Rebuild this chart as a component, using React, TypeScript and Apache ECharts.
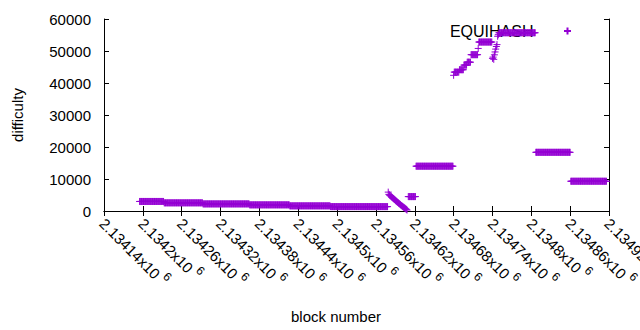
import { useEffect, useRef } from "react";
import * as echarts from "echarts";

// ---- axis ranges ----
const X_MIN = 2134140;
const X_MAX = 2134920;
const X_STEP = 60;
const Y_MIN = 0;
const Y_MAX = 60000;
const Y_STEP = 10000;

// tick labels (mantissa of N x10^6)
const xTickLabels = [
  "2.13414", "2.1342", "2.13426", "2.13432", "2.13438", "2.13444", "2.1345",
  "2.13456", "2.13462", "2.13468", "2.13474", "2.1348", "2.13486", "2.13492",
];
const xTickExponent = "6";

// ---- data: runs of consecutive blocks with the same difficulty ----
const runFirst = [
  2134195, 2134233, 2134293, 2134365, 2134427, 2134490, 2134610, 2134622,
  2134680, 2134681, 2134689, 2134696, 2134701, 2134707, 2134718, 2134719,
  2134750, 2134807, 2134861,
];
const runLast = [
  2134232, 2134292, 2134364, 2134426, 2134489, 2134578, 2134621, 2134679,
  2134680, 2134688, 2134695, 2134700, 2134706, 2134717, 2134718, 2134739,
  2134806, 2134860, 2134916,
];
const runValue = [
  2980, 2550, 2220, 1920, 1610, 1370, 4500, 14000,
  42400, 43400, 44150, 45600, 46500, 48850, 50800, 52800,
  55700, 18340, 9300,
];

// ---- data: sequences of individually varying blocks ----
const dropStart = 2134579;
const dropValues = [
  5900, 5200, 5000, 4800, 4650, 4450, 4250, 4100, 3900, 3700, 3550, 3350,
  3150, 3000, 2800, 2650, 2450, 2300, 2100, 1950, 1750, 1600, 1450, 1300,
  1150, 1000, 850, 700, 500, 300,
];
const riseStart = 2134740;
const riseValues = [47700, 48100, 47400, 48800, 49700, 50600, 51400, 52000, 54600, 55100];

const SERIES_NAME = "EQUIHASH";
const COLOR = "#9400d3";
const FONT = "Liberation Sans, Arial, sans-serif";
const PLUS = "path://M0,-1L0,1M-1,0L1,0";

function buildPoints(): [number, number][] {
  const pts: [number, number][] = [];
  for (let r = 0; r < runFirst.length; r++) {
    for (let b = runFirst[r]; b <= runLast[r]; b++) pts.push([b, runValue[r]]);
  }
  dropValues.forEach((v, i) => pts.push([dropStart + i, v]));
  riseValues.forEach((v, i) => pts.push([riseStart + i, v]));
  return pts;
}

export default function App() {
  const ref = useRef<HTMLDivElement>(null);
  useEffect(() => {
    if (!ref.current) return;
    const chart = echarts.init(ref.current, null, { renderer: "svg" });
    const axisLine = { show: true, lineStyle: { color: "#000", width: 1 } };
    const tick = { show: true, inside: true, length: 5, lineStyle: { color: "#000", width: 1 } };
    chart.setOption({
      animation: false,
      backgroundColor: "#fff",
      textStyle: { fontFamily: FONT },
      grid: {
        left: 104, right: 31, top: 19, bottom: 119,
        containLabel: false, outerBoundsMode: "none",
      },
      legend: {
        show: true,
        data: [SERIES_NAME],
        right: 68,
        top: 23,
        align: "right",
        itemWidth: 58,
        itemHeight: 7,
        padding: 0,
        z: 1,
        selectedMode: false,
        textStyle: { fontSize: 16, color: "#000", fontFamily: FONT },
      },
      xAxis: [
        {
          type: "value", min: X_MIN, max: X_MAX, interval: X_STEP, position: "bottom",
          axisLine, axisTick: tick, splitLine: { show: false },
          axisLabel: {
            show: true, rotate: -45, margin: 8, showMinLabel: true, showMaxLabel: true,
            hideOverlap: false,
            formatter: (v: number) => {
              const i = Math.round((v - X_MIN) / X_STEP);
              return `{m|${xTickLabels[i]}x10}{s|${xTickExponent}}`;
            },
            rich: {
              m: { fontSize: 15, color: "#000", fontFamily: FONT, lineHeight: 20, verticalAlign: "bottom" },
              s: { fontSize: 12, color: "#000", fontFamily: FONT, padding: [0, 0, 0, 4], verticalAlign: "top" },
            },
          },
        },
        {
          type: "value", min: X_MIN, max: X_MAX, interval: X_STEP, position: "top",
          axisLine, axisTick: tick, axisLabel: { show: false }, splitLine: { show: false },
        },
      ],
      yAxis: [
        {
          type: "value", min: Y_MIN, max: Y_MAX, interval: Y_STEP, position: "left",
          axisLine, axisTick: tick, splitLine: { show: false },
          axisLabel: {
            show: true, margin: 13, color: "#000", fontSize: 15, fontFamily: FONT,
            formatter: (v: number) => String(v),
          },
        },
        {
          type: "value", min: Y_MIN, max: Y_MAX, interval: Y_STEP, position: "right",
          axisLine, axisTick: tick, axisLabel: { show: false }, splitLine: { show: false },
        },
      ],
      graphic: [
        {
          type: "text", x: 17, y: 115, rotation: Math.PI / 2,
          style: { text: "difficulty", fontSize: 15, fontFamily: FONT, fill: "#000", align: "center", verticalAlign: "middle" },
        },
        {
          type: "text", x: 336, y: 316,
          style: { text: "block number", fontSize: 15, fontFamily: FONT, fill: "#000", align: "center", verticalAlign: "middle" },
        },
      ],
      series: [
        {
          name: SERIES_NAME,
          type: "scatter",
          xAxisIndex: 0,
          yAxisIndex: 0,
          symbol: PLUS,
          symbolSize: 7,
          silent: true,
          z: 2,
          itemStyle: { color: COLOR, borderColor: COLOR, borderWidth: 1, opacity: 1 },
          emphasis: { disabled: true },
          data: buildPoints(),
        },
      ],
    });
    return () => chart.dispose();
  }, []);
  return (
    <div
      ref={ref}
      style={{ position: "fixed", left: 0, top: 0, width: 640, height: 330, background: "#fff" }}
    />
  );
}
